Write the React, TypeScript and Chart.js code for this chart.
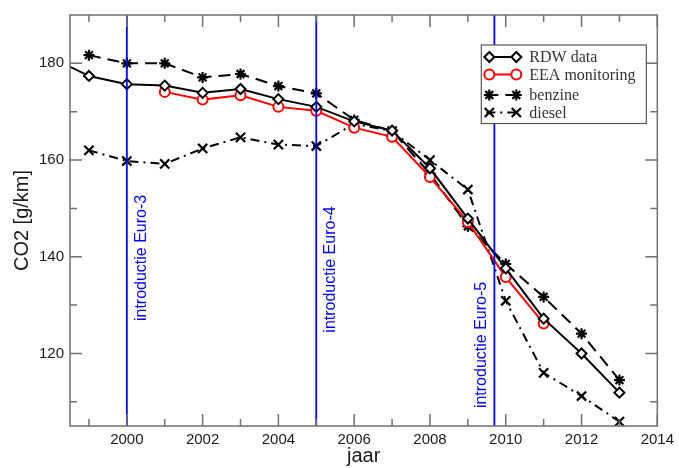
import React, { useEffect, useRef } from 'react';
import { Chart, registerables } from 'chart.js';

Chart.register(...registerables);

const rdwYears = [1998, 1999, 2000, 2001, 2002, 2003, 2004, 2005, 2006, 2007, 2008, 2009, 2010, 2011, 2012, 2013];
const rdwValues = [181.2, 177.4, 175.7, 175.4, 173.9, 174.7, 172.6, 171.0, 168.0, 166.1, 158.3, 147.9, 137.6, 127.2, 120.0, 111.9];

const eeaYears = [2001, 2002, 2003, 2004, 2005, 2006, 2007, 2008, 2009, 2010, 2011];
const eeaValues = [174.1, 172.5, 173.4, 171.0, 170.2, 166.7, 164.8, 156.5, 147.2, 135.8, 126.2];

const benzineYears = [1999, 2000, 2001, 2002, 2003, 2004, 2005, 2006, 2007, 2008, 2009, 2010, 2011, 2012, 2013];
const benzineValues = [181.7, 180.0, 180.0, 177.1, 177.8, 175.3, 173.8, 168.3, 166.0, 157.2, 146.3, 138.5, 131.7, 124.1, 114.5];

const dieselYears = [1999, 2000, 2001, 2002, 2003, 2004, 2005, 2006, 2007, 2008, 2009, 2010, 2011, 2012, 2013];
const dieselValues = [162.0, 159.8, 159.2, 162.4, 164.7, 163.2, 162.9, 167.5, 166.0, 160.0, 153.9, 130.9, 116.0, 111.2, 105.9];

const xTickValues = [2000, 2002, 2004, 2006, 2008, 2010, 2012, 2014];
const yTickValues = [120, 140, 160, 180];

const euroYears = [2000, 2005, 2009.7];
const euroLabels = ['introductie Euro-3', 'introductie Euro-4', 'introductie Euro-5'];
const euroLabelStart = [126.7, 124.3, 108.7];

const SANS = '"Liberation Sans", Arial, Helvetica, sans-serif';
const SERIF = '"Liberation Serif", "Times New Roman", serif';
const AXIS = '#707070';
const TEXT = '#1a1a1a';
const BLUE = '#0000ff';

const pts = (xs: number[], ys: number[]) => xs.map((x, i) => ({ x, y: ys[i] }));

function drawMarker(ctx: CanvasRenderingContext2D, style: string, x: number, y: number, r: number) {
  ctx.beginPath();
  if (style === 'rectRot') {
    ctx.moveTo(x, y - r);
    ctx.lineTo(x + r, y);
    ctx.lineTo(x, y + r);
    ctx.lineTo(x - r, y);
    ctx.closePath();
    ctx.fill();
    ctx.stroke();
  } else if (style === 'circle') {
    ctx.arc(x, y, r, 0, Math.PI * 2);
    ctx.fill();
    ctx.stroke();
  } else if (style === 'star') {
    const d = r * Math.SQRT1_2;
    ctx.moveTo(x, y - r); ctx.lineTo(x, y + r);
    ctx.moveTo(x - r, y); ctx.lineTo(x + r, y);
    ctx.moveTo(x - d, y - d); ctx.lineTo(x + d, y + d);
    ctx.moveTo(x - d, y + d); ctx.lineTo(x + d, y - d);
    ctx.stroke();
  } else if (style === 'crossRot') {
    const d = r * Math.SQRT1_2;
    ctx.moveTo(x - d, y - d); ctx.lineTo(x + d, y + d);
    ctx.moveTo(x - d, y + d); ctx.lineTo(x + d, y - d);
    ctx.stroke();
  }
}

const overlayPlugin = {
  id: 'overlay',
  afterDatasetsDraw(chart: any) {
    const { ctx, chartArea: a, scales } = chart;
    const xs = scales.x;
    const ys = scales.y;
    ctx.save();

    // Euro norm lines and labels
    euroYears.forEach((yr, i) => {
      const px = xs.getPixelForValue(yr);
      ctx.strokeStyle = BLUE;
      ctx.lineWidth = 1.8;
      ctx.setLineDash([]);
      ctx.beginPath();
      ctx.moveTo(px, a.top);
      ctx.lineTo(px, a.bottom);
      ctx.stroke();
      ctx.save();
      const off = i === 2 ? -12.5 : 14.5;
      ctx.translate(px + off, ys.getPixelForValue(euroLabelStart[i]));
      ctx.rotate(-Math.PI / 2);
      ctx.fillStyle = BLUE;
      ctx.font = `16px ${SANS}`;
      ctx.textAlign = 'left';
      ctx.textBaseline = 'middle';
      ctx.fillText(euroLabels[i], 0, 0);
      ctx.restore();
    });

    // ticks (inward) on all sides
    ctx.strokeStyle = AXIS;
    ctx.lineWidth = 1.5;
    ctx.beginPath();
    for (let v = Math.ceil(xs.min); v <= xs.max; v++) {
      const px = xs.getPixelForValue(v);
      const len = v % 2 === 0 ? 12 : 7;
      ctx.moveTo(px, a.bottom); ctx.lineTo(px, a.bottom - len);
      ctx.moveTo(px, a.top); ctx.lineTo(px, a.top + len);
    }
    for (let v = Math.ceil(ys.min / 10) * 10; v < ys.max; v += 10) {
      const py = ys.getPixelForValue(v);
      const len = v % 20 === 0 ? 12 : 7;
      ctx.moveTo(a.left, py); ctx.lineTo(a.left + len, py);
      ctx.moveTo(a.right, py); ctx.lineTo(a.right - len, py);
    }
    ctx.stroke();
    ctx.strokeRect(a.left, a.top, a.right - a.left, a.bottom - a.top);

    // legend
    const bx = a.right - 176;
    const by = a.top + 30;
    const bw = 165;
    const bh = 78.5;
    ctx.fillStyle = '#ffffff';
    ctx.fillRect(bx, by, bw, bh);
    ctx.strokeStyle = '#555555';
    ctx.lineWidth = 1.2;
    ctx.strokeRect(bx, by, bw, bh);
    const rows = [12, 29.5, 50, 67.5];
    chart.data.datasets.forEach((ds: any, i: number) => {
      const ry = by + rows[i];
      ctx.strokeStyle = ds.borderColor;
      ctx.lineWidth = ds.borderWidth;
      ctx.setLineDash(ds.borderDash || []);
      ctx.beginPath();
      ctx.moveTo(bx + 5, ry);
      ctx.lineTo(bx + 38, ry);
      ctx.stroke();
      ctx.setLineDash([]);
      ctx.strokeStyle = ds.pointBorderColor;
      ctx.fillStyle = ds.pointBackgroundColor;
      ctx.lineWidth = ds.pointBorderWidth;
      drawMarker(ctx, ds.pointStyle, bx + 8, ry, ds.pointRadius);
      drawMarker(ctx, ds.pointStyle, bx + 35, ry, ds.pointRadius);
      ctx.fillStyle = '#333333';
      ctx.font = `16px ${SERIF}`;
      ctx.textAlign = 'left';
      ctx.textBaseline = 'middle';
      ctx.fillText(ds.label, bx + 48, ry + 1);
    });
    ctx.restore();
  },
};

export default function App() {
  const ref = useRef<HTMLCanvasElement | null>(null);

  useEffect(() => {
    if (!ref.current) return;
    const chart = new Chart(ref.current, {
      type: 'line',
      data: {
        datasets: [
          {
            label: 'RDW data',
            data: pts(rdwYears, rdwValues),
            borderColor: '#000000',
            borderWidth: 2,
            pointStyle: 'rectRot',
            pointRadius: 5,
            pointBorderWidth: 2,
            pointBorderColor: '#000000',
            pointBackgroundColor: '#ffffff',
            borderDash: [],
          },
          {
            label: 'EEA monitoring',
            data: pts(eeaYears, eeaValues),
            borderColor: '#ff0000',
            borderWidth: 2,
            pointStyle: 'circle',
            pointRadius: 5,
            pointBorderWidth: 2,
            pointBorderColor: '#ff0000',
            pointBackgroundColor: '#ffffff',
            borderDash: [],
          },
          {
            label: 'benzine',
            data: pts(benzineYears, benzineValues),
            borderColor: '#000000',
            borderWidth: 2,
            borderDash: [12, 7],
            pointStyle: 'star',
            pointRadius: 5.5,
            pointBorderWidth: 2.2,
            pointBorderColor: '#000000',
            pointBackgroundColor: '#000000',
          },
          {
            label: 'diesel',
            data: pts(dieselYears, dieselValues),
            borderColor: '#000000',
            borderWidth: 2,
            borderDash: [9, 5, 2, 5],
            pointStyle: 'crossRot',
            pointRadius: 6.5,
            pointBorderWidth: 2.2,
            pointBorderColor: '#000000',
            pointBackgroundColor: '#000000',
          },
        ],
      },
      options: {
        animation: false,
        responsive: false,
        parsing: false as any,
        layout: { padding: { top: 14, right: 21, left: 0, bottom: 0 } },
        elements: { line: { tension: 0 } },
        plugins: {
          legend: { display: false },
          tooltip: { enabled: false },
        },
        scales: {
          x: {
            type: 'linear',
            min: 1998.5,
            max: 2014,
            afterBuildTicks: (s: any) => {
              s.ticks = xTickValues.map((v) => ({ value: v }));
            },
            afterFit: (s: any) => {
              s.height = 42;
            },
            grid: { display: false, drawTicks: false },
            border: { display: false },
            ticks: {
              autoSkip: false,
              maxRotation: 0,
              padding: 5,
              color: TEXT,
              font: { size: 15, family: SANS },
              callback: (v: any) => String(v),
            },
            title: {
              display: true,
              text: 'jaar',
              color: TEXT,
              font: { size: 20, family: SANS },
              padding: { top: 0, bottom: 0 },
            },
          },
          y: {
            type: 'linear',
            min: 105,
            max: 190,
            afterBuildTicks: (s: any) => {
              s.ticks = yTickValues.map((v) => ({ value: v }));
            },
            afterFit: (s: any) => {
              s.width = 70;
            },
            grid: { display: false, drawTicks: false },
            border: { display: false },
            ticks: {
              padding: 6,
              color: TEXT,
              font: { size: 15, family: SANS },
              callback: (v: any) => String(v),
            },
            title: {
              display: true,
              text: 'CO2 [g/km]',
              color: TEXT,
              font: { size: 20, family: SANS },
              padding: { top: 10, bottom: 0 },
            },
          },
        },
      },
      plugins: [overlayPlugin],
    });
    return () => chart.destroy();
  }, []);

  return (
    <div style={{ position: 'fixed', left: 0, top: 0, width: 679, height: 468, background: '#ffffff' }}>
      <canvas ref={ref} width={679} height={468} style={{ display: 'block' }} />
    </div>
  );
}
